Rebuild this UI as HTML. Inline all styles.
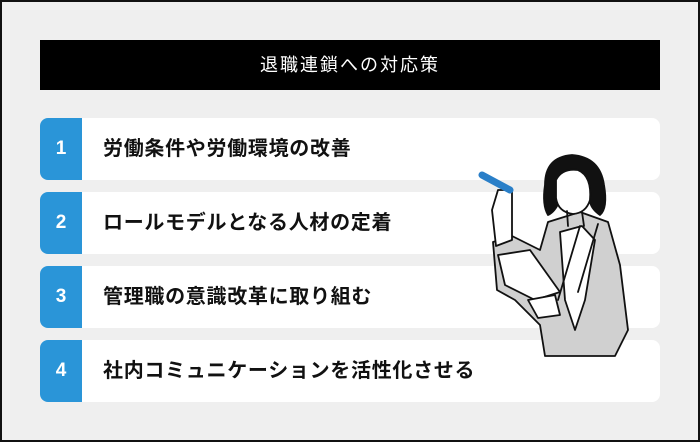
<!DOCTYPE html>
<html><head><meta charset="utf-8"><style>
body{margin:0;width:700px;height:442px;overflow:hidden;font-family:"Liberation Sans","Noto Sans CJK JP",sans-serif}
.f{position:absolute;left:0;top:0;width:696px;height:438px;border:2px solid #111;background:#efefef}
.t{position:absolute;left:40px;top:40px;width:620px;height:50px;background:#000;color:#fff;font-size:18px;letter-spacing:2px;text-align:center;line-height:50px}
.r{position:absolute;left:40px;width:620px;height:62px;background:#fff;border-radius:8px}
.n{position:absolute;left:0;top:0;width:42px;height:62px;background:#2a95d8;border-radius:8px 0 0 8px;color:#fff;font-weight:bold;font-size:19px;text-align:center;line-height:62px}
.x{position:absolute;left:63px;top:0;line-height:62px;font-size:20px;letter-spacing:0.7px;font-weight:bold;color:#111}
</style></head><body><div class="f"></div>
<div class="t">退職連鎖への対応策</div>
<div class="r" style="top:118px"><div class="n">1</div><div class="x">労働条件や労働環境の改善</div></div>
<div class="r" style="top:192px"><div class="n">2</div><div class="x">ロールモデルとなる人材の定着</div></div>
<div class="r" style="top:266px"><div class="n">3</div><div class="x">管理職の意識改革に取り組む</div></div>
<div class="r" style="top:340px"><div class="n">4</div><div class="x">社内コミュニケーションを活性化させる</div></div>
<svg style="position:absolute;left:0;top:0" width="700" height="442" fill="none" stroke="#111" stroke-width="1.8" stroke-linejoin="round" stroke-linecap="round">
<path d="M548 222 L580 212 L608 222 L620 265 L628 330 L615 356 L545 356 L540 325 L515 300 L497 290 L493 242 L512 236 L540 250 Z" fill="#d0d0d0"/>
<path d="M560 232 L582 226 L595 240 L585 300 L575 330 L565 300 Z" fill="#fff"/>
<path d="M580 226 L558 300 M598 224 L578 292"/>
<path d="M545 185 Q545 157 572 155 Q600 157 604 185 Q608 208 600 215 Q590 208 590 200 L560 200 Q555 212 548 215 Q542 205 545 185Z" fill="#111"/>
<path d="M556 180 Q562 168 578 170 Q592 176 590 200 Q586 213 573 214 Q558 212 556 198Z" fill="#fff"/>
<path d="M567 211 L568 226 M582 212 L584 226"/>
<path d="M492 210 L498 190 L512 190 L512 240 L496 246 Z" fill="#fff"/>
<path d="M482 175 L510 190" stroke="#2a7fc8" stroke-width="7"/>
<path d="M498 255 L530 250 L560 292 L535 300 L505 285 Z" fill="#fff"/>
<path d="M528 300 L555 295 L560 315 L538 318 Z" fill="#fff"/>
</svg>
</body></html>
